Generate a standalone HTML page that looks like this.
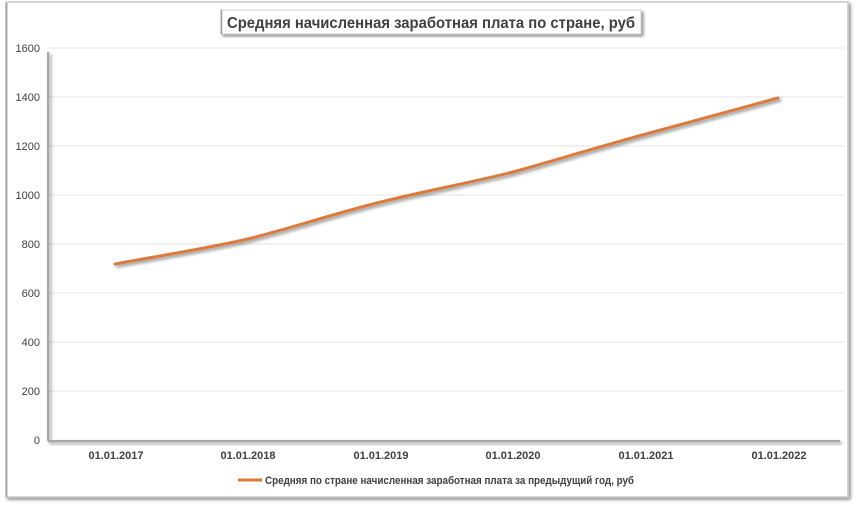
<!DOCTYPE html>
<html><head><meta charset="utf-8"><style>
html,body{margin:0;padding:0;background:#fff;}
body{width:860px;height:506px;overflow:hidden;}
svg{display:block;}
text{font-family:"Liberation Sans","DejaVu Sans",sans-serif;}
</style></head><body>
<svg width="860" height="506" viewBox="0 0 860 506" xmlns="http://www.w3.org/2000/svg">
<defs>
<filter id="sh" x="-5%" y="-5%" width="110%" height="120%">
<feGaussianBlur in="SourceAlpha" stdDeviation="1.5"/>
<feOffset dx="2" dy="2" result="b"/>
<feComponentTransfer><feFuncA type="linear" slope="0.45"/></feComponentTransfer>
<feMerge><feMergeNode/><feMergeNode in="SourceGraphic"/></feMerge>
</filter>
</defs>
<rect x="0" y="0" width="860" height="506" fill="#fff"/>
<!-- outer frame -->
<rect x="6" y="2" width="842" height="495" fill="#fff" stroke="#c8c8c8" stroke-width="1.5" filter="url(#sh)"/>
<line x1="6.5" y1="3" x2="6.5" y2="497" stroke="#a8a8a8" stroke-width="2"/>
<!-- gridlines -->
<g stroke="#e3e3e3" stroke-width="1">
<line x1="49" y1="48" x2="844" y2="48"/>
<line x1="49" y1="97" x2="844" y2="97"/>
<line x1="49" y1="146" x2="844" y2="146"/>
<line x1="49" y1="195" x2="844" y2="195"/>
<line x1="49" y1="244" x2="844" y2="244"/>
<line x1="49" y1="293" x2="844" y2="293"/>
<line x1="49" y1="342" x2="844" y2="342"/>
<line x1="49" y1="391" x2="844" y2="391"/>
</g>
<!-- axes -->
<g filter="url(#sh)">
<line x1="48" y1="52" x2="48" y2="441" stroke="#a6a6a6" stroke-width="2"/>
<line x1="48" y1="441" x2="840" y2="441" stroke="#a6a6a6" stroke-width="2"/>
</g>
<!-- y labels -->
<g font-size="11" fill="#404040" text-anchor="end">
<text x="40" y="52">1600</text>
<text x="40" y="101">1400</text>
<text x="40" y="150">1200</text>
<text x="40" y="199">1000</text>
<text x="40" y="248">800</text>
<text x="40" y="297">600</text>
<text x="40" y="346">400</text>
<text x="40" y="395">200</text>
<text x="40" y="444">0</text>
</g>
<!-- x labels -->
<g font-size="11" font-weight="bold" fill="#404040" text-anchor="middle">
<text x="116" y="459">01.01.2017</text>
<text x="248" y="459">01.01.2018</text>
<text x="381" y="459">01.01.2019</text>
<text x="513" y="459">01.01.2020</text>
<text x="646" y="459">01.01.2021</text>
<text x="779" y="459">01.01.2022</text>
</g>
<!-- series -->
<path d="M115,264 C159,256 204,249 248,239 C292,228 336,213 381,202 C425,191 469,183 513,172 C557,160 601,146 646,134 C690,122 734,110 778,98" fill="none" stroke="#dc7a3c" stroke-width="3" stroke-linecap="round" stroke-linejoin="round" filter="url(#sh)"/>
<!-- title -->
<rect x="221" y="10" width="420" height="24" fill="#fff" stroke="#cfcfcf" stroke-width="1" filter="url(#sh)"/>
<line x1="221.5" y1="10" x2="221.5" y2="34" stroke="#9a9a9a" stroke-width="1.5"/>
<text x="431" y="28" font-size="16" font-weight="bold" fill="#404040" text-anchor="middle" textLength="408" lengthAdjust="spacingAndGlyphs">Средняя начисленная заработная плата по стране, руб</text>
<!-- legend -->
<line x1="238" y1="480" x2="262" y2="480" stroke="#dc7a3c" stroke-width="3"/>
<text x="265" y="484" font-size="11" font-weight="bold" fill="#404040" textLength="369" lengthAdjust="spacingAndGlyphs">Средняя по стране начисленная заработная плата за предыдущий год, руб</text>
</svg>
</body></html>
